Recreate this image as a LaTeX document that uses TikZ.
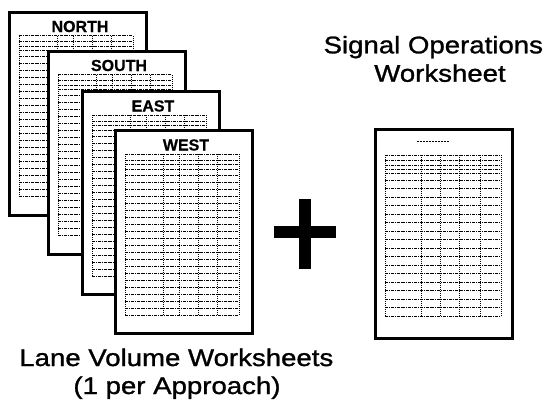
\documentclass[tikz,border=0pt]{standalone}
\usepackage{fontspec}
\setmainfont{Liberation Sans}
\newfontfamily\titlefont[FakeStretch=1.15,FakeBold=1.2]{Liberation Sans}
\newfontfamily\labelfont[FakeBold=0.6]{Liberation Sans Bold}
\usetikzlibrary{positioning}

\tikzset{
  sheet/.style={draw=black,line width=3.2pt,fill=white,inner sep=0,anchor=north west,minimum width=137,minimum height=203},
  sheetlabel/.style={anchor=base,inner sep=0,font=\labelfont\fontsize{16}{18}\selectfont},
  formrow/.style={line width=1pt,dash pattern=on 3pt off 0.9pt on 1pt off 0.9pt},
  formcol/.style={line width=0.9pt,dash pattern=on 1pt off 1pt},
  bigtext/.style={anchor=base,inner sep=0,font=\titlefont\fontsize{24}{28}\selectfont}
}

\begin{document}
\begin{tikzpicture}[x=1pt,y=-1pt]
\path[use as bounding box,fill=white] (0,0) rectangle (547,402);

% lane volume sheets, back to front
\foreach \sx/\sy/\nm/\lbl in {8/10.5/north/NORTH,47/49.5/south/SOUTH,81/90/east/EAST,114/129/west/WEST}{
  \node[sheet] (\nm) at (\sx,\sy) {};
  \node[sheetlabel] (\nm-label) at (\sx+72,\sy+21.5) {\lbl};
  \foreach \ry in {25,31,35.5,40,46,53,...,186}
    \draw[formrow] (\sx+11,\sy+\ry) -- (\sx+125,\sy+\ry);
  \foreach \cx in {11,49,65,84,103,125}
    \draw[formcol] (\sx+\cx,\sy+25) -- (\sx+\cx,\sy+186);
}

% plus sign
\fill (274,226) rectangle (336,238);
\fill (299,199) rectangle (311,269);

% signal operations sheet
\node[sheet,minimum width=137.5,minimum height=209] (signal) at (373.5,128) {};
\draw[line width=0.9pt,dash pattern=on 2pt off 1pt] (417,141.7) -- (450,141.7);
\foreach \ry in {27,32,37,41,45}
  \draw[formrow] (385,128+\ry) -- (501,128+\ry);
\foreach \k in {0,...,16}
  \draw[formrow] (385,180+8.5*\k) -- (501,180+8.5*\k);
\foreach \cx in {385,421,440,459.5,480.5,501}
  \draw[formcol] (\cx,155) -- (\cx,316);

% captions
\node[bigtext] (lanetitle) at (176.3,366) {Lane Volume Worksheets};
\node[bigtext] (lanenote) at (177,394) {(1 per Approach)};
\node[bigtext] (signaltitle) at (433.3,53.3) {Signal Operations};
\node[bigtext] (signalsub) at (440,81.7) {Worksheet};
\end{tikzpicture}
\end{document}
